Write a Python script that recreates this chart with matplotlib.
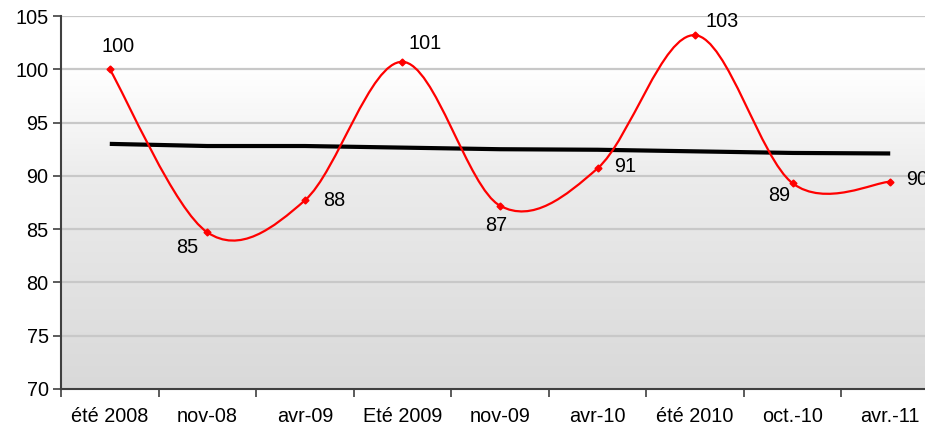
import numpy as np
import matplotlib.pyplot as plt
from matplotlib.path import Path
from matplotlib.patches import PathPatch
from matplotlib.colors import LinearSegmentedColormap

plt.rcParams['font.family'] = ['Liberation Sans', 'DejaVu Sans']

# data
periods = ['été 2008', 'nov-08', 'avr-09', 'Eté 2009', 'nov-09',
           'avr-10', 'été 2010', 'oct.-10', 'avr.-11']
index_vals = [100.0, 84.7, 87.7, 100.7, 87.2, 90.7, 103.2, 89.3, 89.45]
index_labels = ['100', '85', '88', '101', '87', '91', '103', '89', '90']
trend_vals = [93.0, 92.8, 92.8, 92.65, 92.5, 92.45, 92.3, 92.15, 92.1]

# label offsets in pixels (dx, dy), dy positive = up
label_offsets = [(8, 23), (-20, -15), (29, 0), (23, 18), (-4, -20),
                 (28, 2), (27, 14), (-13, -12), (27, 2)]


def smooth_path(xs, ys):
    # bezier path through the points (excel style smoothed line)
    pts = np.column_stack([xs, ys]).astype(float)
    n = len(pts)
    verts = [pts[0]]
    codes = [Path.MOVETO]
    for i in range(n - 1):
        p0 = pts[max(i - 1, 0)]
        p1 = pts[i]
        p2 = pts[i + 1]
        p3 = pts[min(i + 2, n - 1)]
        c1 = p1 + (p2 - p0) / 6.0
        c2 = p2 - (p3 - p1) / 6.0
        verts += [c1, c2, p2]
        codes += [Path.CURVE4] * 3
    return Path(verts, codes)


W, H = 925, 429
fs = 14.3
fig = plt.figure(figsize=(W / 100, H / 100), dpi=100)
ax = fig.add_axes([61 / W, (H - 389) / H, (939 - 61) / W, (389 - 16) / H])

x = np.arange(len(periods))
ax.set_xlim(-0.5, len(periods) - 0.5)
ax.set_ylim(70, 105)

# gradient background
cmap = LinearSegmentedColormap.from_list(
    'bg', [(0, '#d9d9d9'), (0.55, '#ebebeb'), (0.86, '#ffffff'), (1, '#ffffff')])
grad = np.linspace(0, 1, 256).reshape(-1, 1)
ax.imshow(grad, cmap=cmap, aspect='auto', origin='lower',
          extent=[-0.5, len(periods) - 0.5, 70, 105], zorder=0)

for yv in range(75, 106, 5):
    ax.axhline(yv, color='#c8c8c8', lw=1.6, zorder=1)

# trend line
ax.plot(x, trend_vals, color='black', lw=3, zorder=3, solid_capstyle='butt')

# smoothed red series
ax.add_patch(PathPatch(smooth_path(x, index_vals), fill=False,
                       edgecolor='red', lw=1.6, zorder=4))
ax.plot(x, index_vals, 'D', color='red', ms=3.5, zorder=5)

for xi, yi, lab, (dx, dy) in zip(x, index_vals, index_labels, label_offsets):
    ax.annotate(lab, (xi, yi), xytext=(dx * 0.72, dy * 0.72),
                textcoords='offset points', ha='center', va='center',
                fontsize=fs, color='black', zorder=6, annotation_clip=False)

ax.set_xticks(x)
ax.set_xticklabels(periods, fontsize=fs)
ax.set_xticks(np.arange(-0.5, len(periods), 1), minor=True)
ax.tick_params(axis='x', which='major', length=0, pad=13)
ax.tick_params(axis='x', which='minor', length=6, width=1.2,
               color='#404040', direction='out')
ax.set_yticks(range(70, 106, 5))
ax.tick_params(axis='y', labelsize=fs, length=6, width=1.2,
               color='#404040', pad=3)

for side in ['top', 'right']:
    ax.spines[side].set_visible(False)
for side in ['left', 'bottom']:
    ax.spines[side].set_color('#404040')
    ax.spines[side].set_linewidth(1.5)

fig.savefig('out.png', dpi=100)
